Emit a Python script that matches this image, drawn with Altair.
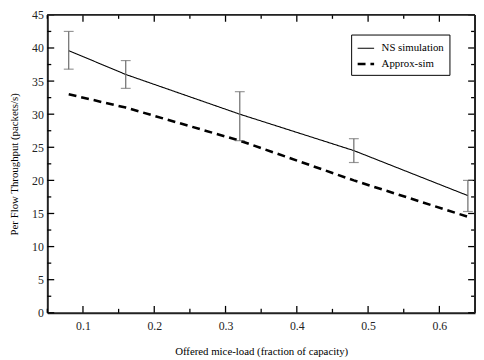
import altair as alt
import pandas as pd

load = [0.08, 0.16, 0.32, 0.48, 0.64]
ns_sim = [39.6, 36.0, 30.0, 24.5, 17.7]
ns_lo = [36.8, 33.9, 26.0, 22.7, 15.3]
ns_hi = [42.5, 38.1, 33.4, 26.3, 20.0]
approx_sim = [33.0, 31.0, 26.0, 20.0, 14.5]
series_names = ["NS simulation", "Approx-sim"]

x_major = [0.1, 0.2, 0.3, 0.4, 0.5, 0.6]
x_minor = [0.05, 0.15, 0.25, 0.35, 0.45, 0.55, 0.65]
y_major = [0, 5, 10, 15, 20, 25, 30, 35, 40, 45]
y_minor = [2.5, 7.5, 12.5, 17.5, 22.5, 27.5, 32.5, 37.5, 42.5]

W, H = 435, 303
FONT = "Liberation Serif"

lines = pd.DataFrame({
    "load": load * 2,
    "tput": ns_sim + approx_sim,
    "series": [series_names[0]] * len(load) + [series_names[1]] * len(load),
})
err = pd.DataFrame({"load": load, "lo": ns_lo, "hi": ns_hi})

xs = alt.Scale(domain=[0.05, 0.65], nice=False, zero=False)
ys = alt.Scale(domain=[0, 45], nice=False)

x_axis = alt.Axis(values=x_major, format=".1f", ticks=False, grid=False,
                  domain=True, domainColor="#222", domainWidth=2,
                  labelPadding=8, labelOverlap=False,
                  labelFont=FONT, labelFontSize=12, labelColor="#222",
                  title="Offered mice-load (fraction of capacity)",
                  titleFont=FONT, titleFontSize=11, titleFontWeight="normal",
                  titleColor="black", titlePadding=14)
y_axis = alt.Axis(values=y_major, ticks=False, grid=False,
                  domain=True, domainColor="#222", domainWidth=2,
                  labelPadding=4, labelOverlap=False,
                  labelFont=FONT, labelFontSize=12, labelColor="#222",
                  title="Per Flow Throughput (packets/s)",
                  titleFont=FONT, titleFontSize=11, titleFontWeight="normal",
                  titleColor="black", titlePadding=12)


def xticks(vals, length, top):
    d = pd.DataFrame({"v": vals})
    if top:
        yv, y2v = 0, length
    else:
        yv, y2v = H, H - length
    return alt.Chart(d).mark_rule(color="black", strokeWidth=1.3).encode(
        x=alt.X("v:Q", scale=xs, axis=x_axis), y=alt.value(yv), y2=alt.value(y2v))


def yticks(vals, length, right):
    d = pd.DataFrame({"v": vals})
    if right:
        xv, x2v = W, W - length
    else:
        xv, x2v = 0, length
    return alt.Chart(d).mark_rule(color="black", strokeWidth=1.3).encode(
        y=alt.Y("v:Q", scale=ys, axis=y_axis), x=alt.value(xv), x2=alt.value(x2v))


tick_layers = [
    xticks(x_major, 7, False), xticks(x_minor, 4, False),
    xticks(x_major, 7, True), xticks(x_minor, 4, True),
    yticks(y_major, 7, False), yticks(y_minor, 4, False),
    yticks(y_major, 7, True), yticks(y_minor, 4, True),
]

line_layer = alt.Chart(lines).mark_line(color="black").encode(
    x=alt.X("load:Q", scale=xs, axis=x_axis),
    y=alt.Y("tput:Q", scale=ys, axis=y_axis),
    strokeDash=alt.StrokeDash("series:N",
                              scale=alt.Scale(domain=series_names, range=[[1, 0], [8, 5]]),
                              legend=alt.Legend(title=None, orient="none", legendX=309,
                                                legendY=20, symbolType="stroke",
                                                symbolSize=280, symbolStrokeColor="black",
                                                strokeColor="black", padding=5,
                                                fillColor="white",
                                                labelFont=FONT, labelFontSize=11,
                                                rowPadding=1, labelOffset=6)),
    strokeWidth=alt.StrokeWidth("series:N",
                                scale=alt.Scale(domain=series_names, range=[1.1, 2.6]),
                                legend=None),
)

err_layer = alt.Chart(err).mark_errorbar(ticks={"size": 10, "color": "#6a6a6a"},
                                         color="#6a6a6a", thickness=1.2).encode(
    x=alt.X("load:Q", scale=xs, axis=x_axis),
    y=alt.Y("lo:Q", scale=ys, axis=y_axis),
    y2="hi:Q",
)

frame_top = alt.Chart(pd.DataFrame({"v": [0]})).mark_rule(color="#222", strokeWidth=2).encode(
    x=alt.value(0), x2=alt.value(W), y=alt.value(0))
frame_right = alt.Chart(pd.DataFrame({"v": [0]})).mark_rule(color="#222", strokeWidth=2).encode(
    x=alt.value(W), y=alt.value(0), y2=alt.value(H))

chart = alt.layer(*tick_layers, line_layer, err_layer, frame_top, frame_right).properties(
    width=W, height=H,
    padding={"left": 40, "top": 4, "right": 1, "bottom": 44},
    autosize=alt.AutoSizeParams(type="none"),
).configure(background="white")

chart.save("out.html", embed_options={"renderer": "svg", "actions": False})
